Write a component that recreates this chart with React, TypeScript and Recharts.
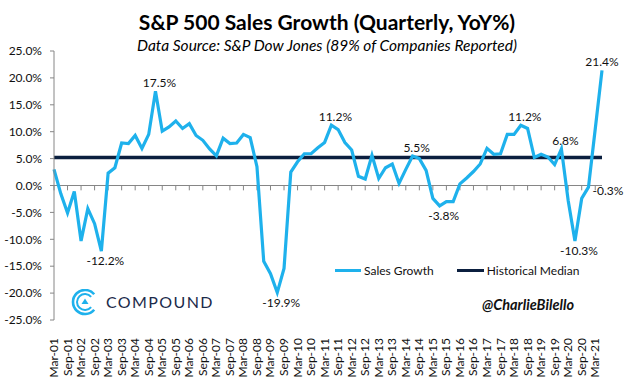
import { LineChart, Line, XAxis, YAxis, ReferenceLine, Legend, LabelList } from 'recharts'

const months = ['Mar', 'Jun', 'Sep', 'Dec']
const years = ['01', '02', '03', '04', '05', '06', '07', '08', '09', '10', '11', '12', '13', '14', '15', '16', '17', '18', '19', '20', '21']
// Mar-01 .. Jun-21
const quarters = years.flatMap((y) => months.map((m) => `${m}-${y}`)).slice(0, 82)

const salesGrowth = [
  3.0, -1.5, -5.1, -1.1, -10.3, -4.3, -7.1, -12.2, 2.3, 3.3,
  7.9, 7.8, 9.3, 6.9, 9.5, 17.5, 10.1, 10.9, 12.0, 10.6,
  11.5, 9.3, 8.4, 6.8, 5.5, 8.8, 7.8, 7.9, 9.5, 8.9,
  3.5, -14.1, -16.4, -19.9, -15.4, 2.5, 4.4, 5.9, 5.9, 7.0,
  8.0, 11.2, 10.4, 8.0, 6.6, 1.7, 1.2, 5.6, 1.3, 3.3,
  4.0, 0.4, 3.0, 5.5, 5.0, 2.8, -2.4, -3.8, -3.0, -3.0,
  0.3, 1.4, 2.6, 4.0, 6.9, 5.8, 5.9, 9.5, 9.5, 11.2,
  10.6, 5.2, 5.8, 5.3, 3.9, 6.8, -2.8, -10.3, -2.4, -0.3,
  10.5, 21.4,
]

const historicalMedian = 5.2

const yTicks = [-25, -20, -15, -10, -5, 0, 5, 10, 15, 20, 25]

// which points carry a data label, and where it sits
const labelIdx = [7, 15, 33, 41, 53, 57, 69, 75, 77, 79, 81]
const labelSide = ['below', 'above', 'below', 'above', 'above', 'below', 'above', 'above', 'below', 'right', 'above']

const FONT = "Lato, 'Open Sans', sans-serif"
const SKY = '#1eb1ec'
const NAVY = '#0b1f3f'
const AXIS = '#868686'

const chartData = quarters.map((q, i) => ({
  quarter: q,
  sales: salesGrowth[i],
  median: historicalMedian,
}))

const renderLabel = (props: any) => {
  const { x, y, index, value } = props
  const k = labelIdx.indexOf(index)
  if (k < 0) return null
  const side = labelSide[k]
  let dx = 4
  let dy = -4
  let anchor: 'middle' | 'start' = 'middle'
  if (side === 'below') dy = 14
  if (side === 'right') {
    dx = 4
    dy = 8
    anchor = 'start'
  }
  if (index === 81) dx = 0
  return (
    <text x={x + dx} y={y + dy} textAnchor={anchor} fontSize={12} fill="#111" fontFamily={FONT}>
      {`${Number(value).toFixed(1)}%`}
    </text>
  )
}

const XTick = (props: any) => {
  const { x, y, payload } = props
  return (
    <text
      transform={`translate(${x + 4},${y + 10}) rotate(-90)`}
      textAnchor="end"
      fontSize={12}
      fill="#111"
      fontFamily={FONT}
    >
      {payload.value}
    </text>
  )
}

const LegendContent = () => (
  <div style={{ display: 'flex', alignItems: 'center', fontFamily: FONT, fontSize: 12, color: '#111' }}>
    <span style={{ display: 'inline-block', width: 26, height: 3, background: SKY, marginRight: 3 }} />
    <span style={{ marginRight: 23 }}>Sales Growth</span>
    <span style={{ display: 'inline-block', width: 27, height: 3, background: NAVY, marginRight: 3 }} />
    <span>Historical Median</span>
  </div>
)

function CompoundLogo() {
  const arc = (r: number) => {
    const cx = 15
    const cy = 13
    const a = (40 * Math.PI) / 180
    const x1 = cx + r * Math.cos(a)
    const y1 = cy - r * Math.sin(a)
    const y2 = cy + r * Math.sin(a)
    return `M ${x1} ${y1} A ${r} ${r} 0 1 0 ${x1} ${y2}`
  }
  return (
    <svg width={32} height={28} style={{ position: 'absolute', left: 70, top: 289 }}>
      <path d={arc(12)} fill="none" stroke={SKY} strokeWidth={2.6} />
      <path d={arc(8)} fill="none" stroke={SKY} strokeWidth={2} />
      <path d="M 15 9.5 L 18.5 15 L 11.5 15 Z" fill={SKY} />
    </svg>
  )
}

export default function App() {
  const ticksAtZero = quarters.filter((_, i) => i % 2 === 0)
  return (
    <div style={{ position: 'relative', width: 631, height: 389, background: '#fff', overflow: 'hidden' }}>
      <style>{'body{margin:0}'}</style>
      <LineChart
        width={631}
        height={389}
        data={chartData}
        margin={{ top: 51, right: 29, left: 0, bottom: 0 }}
      >
        <XAxis
          dataKey="quarter"
          interval={1}
          height={69}
          tickLine={false}
          axisLine={false}
          tick={<XTick />}
        />
        <YAxis
          width={54}
          domain={[-25, 25]}
          ticks={yTicks}
          allowDataOverflow
          stroke={AXIS}
          tickSize={4}
          tickMargin={8}
          tick={{ fontSize: 12, fill: '#111', fontFamily: FONT }}
          tickFormatter={(v: number) => `${v.toFixed(1)}%`}
        />
        <ReferenceLine y={0} stroke={AXIS} strokeWidth={1} />
        {ticksAtZero.map((q) => (
          <ReferenceLine
            key={q}
            segment={[
              { x: q, y: 0 },
              { x: q, y: -0.9 },
            ]}
            stroke={AXIS}
            strokeWidth={1}
          />
        ))}
        <Legend
          verticalAlign="middle"
          layout="horizontal"
          content={<LegendContent />}
          wrapperStyle={{ position: 'absolute', left: 335, top: 263, width: 280 }}
        />
        <Line
          type="linear"
          dataKey="median"
          name="Historical Median"
          stroke={NAVY}
          strokeWidth={3.5}
          dot={false}
          activeDot={false}
          isAnimationActive={false}
        />
        <Line
          type="linear"
          dataKey="sales"
          name="Sales Growth"
          stroke={SKY}
          strokeWidth={3.2}
          dot={false}
          activeDot={false}
          isAnimationActive={false}
        >
          <LabelList dataKey="sales" content={renderLabel} />
        </Line>
      </LineChart>

      <div
        style={{
          position: 'absolute',
          left: 22,
          top: 9,
          width: 610,
          textAlign: 'center',
          fontFamily: FONT,
          fontWeight: 700,
          fontSize: 21,
          color: '#000',
        }}
      >
        S&amp;P 500 Sales Growth (Quarterly, YoY%)
      </div>
      <div
        style={{
          position: 'absolute',
          left: 22,
          top: 36,
          width: 610,
          textAlign: 'center',
          fontFamily: FONT,
          fontStyle: 'italic',
          fontSize: 15.5,
          color: '#000',
        }}
      >
        Data Source: S&amp;P Dow Jones (89% of Companies Reported)
      </div>

      <CompoundLogo />
      <div
        style={{
          position: 'absolute',
          left: 106,
          top: 292,
          fontFamily: FONT,
          fontSize: 16,
          letterSpacing: 1.4,
          color: '#1b2a4a',
        }}
      >
        COMPOUND
      </div>
      <div
        style={{
          position: 'absolute',
          left: 482,
          top: 296,
          fontFamily: FONT,
          fontStyle: 'italic',
          fontWeight: 700,
          fontSize: 14.5,
          color: '#111',
        }}
      >
        @CharlieBilello
      </div>
    </div>
  )
}
